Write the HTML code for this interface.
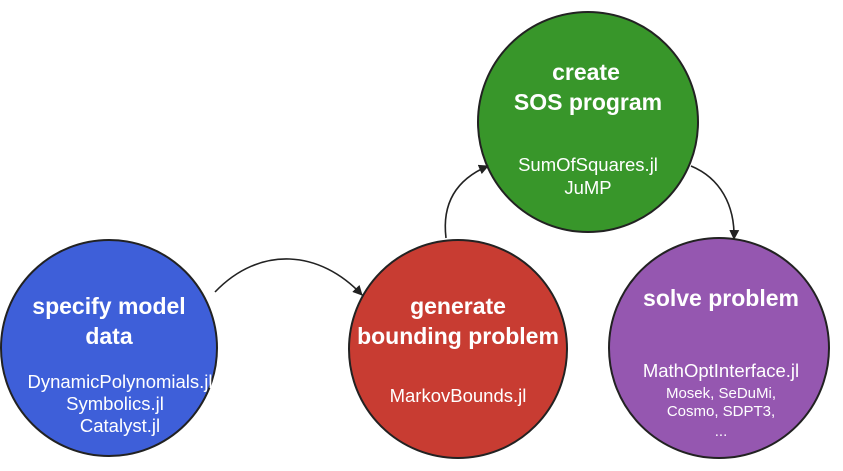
<!DOCTYPE html>
<html><head><style>
body{margin:0;background:#fff;}
svg text{font-family:"Liberation Sans",sans-serif;fill:#fff;text-anchor:middle;}
.t{font-size:23px;font-weight:bold;}
.l{font-size:18.5px;}
.s{font-size:15px;}
</style></head><body>
<svg width="843" height="466" viewBox="0 0 843 466">
<defs><marker id="a" markerWidth="10" markerHeight="10" refX="9" refY="5" orient="auto" markerUnits="userSpaceOnUse"><path d="M0,0 L10,5 L0,10 z" fill="#222"/></marker></defs>
<g stroke="#222" stroke-width="2">
<circle cx="109" cy="348" r="108" fill="#3e5fd9"/>
<circle cx="458" cy="349" r="109" fill="#c83c32"/>
<circle cx="588" cy="122" r="110" fill="#38962a"/>
<circle cx="719" cy="348" r="110" fill="#9557b0"/>
</g>
<g stroke="#222" stroke-width="1.6" fill="none">
<path d="M215,292 C260,245 320,250 362,295" marker-end="url(#a)"/>
<path d="M446,238 C442,205 455,180 488,166" marker-end="url(#a)"/>
<path d="M691,166 C720,178 735,205 734,239" marker-end="url(#a)"/>
</g>
<text class="t" x="109" y="314">specify model</text>
<text class="t" x="109" y="344">data</text>
<text class="l" x="120" y="388">DynamicPolynomials.jl</text>
<text class="l" x="115" y="410">Symbolics.jl</text>
<text class="l" x="120" y="432">Catalyst.jl</text>
<text class="t" x="458" y="314">generate</text>
<text class="t" x="458" y="344">bounding problem</text>
<text class="l" x="458" y="402">MarkovBounds.jl</text>
<text class="t" x="586" y="80">create</text>
<text class="t" x="588" y="110">SOS program</text>
<text class="l" x="588" y="171">SumOfSquares.jl</text>
<text class="l" x="588" y="194">JuMP</text>
<text class="t" x="721" y="306">solve problem</text>
<text class="l" x="721" y="377">MathOptInterface.jl</text>
<text class="s" x="721" y="398">Mosek, SeDuMi,</text>
<text class="s" x="721" y="416">Cosmo, SDPT3,</text>
<text class="s" x="721" y="436">...</text>
</svg>
</body></html>
